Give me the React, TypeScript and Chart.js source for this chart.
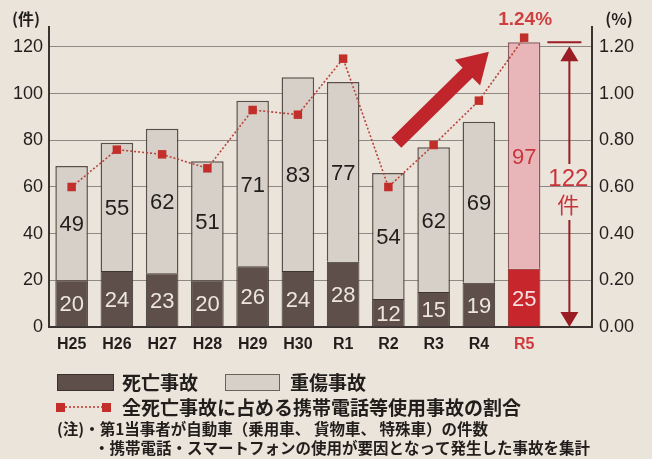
import React, { useEffect, useRef } from 'react';
import { Chart, registerables } from 'chart.js';

Chart.register(...registerables);

// ---- data ----
const categories = ['H25', 'H26', 'H27', 'H28', 'H29', 'H30', 'R1', 'R2', 'R3', 'R4', 'R5'];
const fatalAccidents = [20, 24, 23, 20, 26, 24, 28, 12, 15, 19, 25];
const seriousInjuryAccidents = [49, 55, 62, 51, 71, 83, 77, 54, 62, 69, 97];
const phoneShareRate = [0.6, 0.76, 0.74, 0.68, 0.93, 0.91, 1.15, 0.6, 0.78, 0.97, 1.24];
const countTickValues = [0, 20, 40, 60, 80, 100, 120];
const rateTickValues = [0, 0.2, 0.4, 0.6, 0.8, 1.0, 1.2];
const latestTotal = 122;

const SANS = '"Liberation Sans", Arial, sans-serif';
const NARROW = '"Liberation Sans Narrow", "Liberation Sans", Arial, sans-serif';
const JP = '"Noto Sans CJK JP", "Noto Sans", sans-serif';

const DARK = '#5e4f4a';
const LIGHT = '#d7d0c8';
const RED = '#c7262c';
const PINK = '#e8b6b9';
const LINE_RED = '#c22f2b';
const TEXT = '#221e1c';

// spacer category on the right for the total bracket
const labels = [...categories, ''];
const pad = (a: number[]) => [...a, null];

const lastIdx = categories.length - 1;

const paperPlugin = {
  id: 'paper',
  beforeDraw(chart: any) {
    const { ctx, width, height } = chart;
    ctx.save();
    ctx.fillStyle = '#eae4db';
    ctx.fillRect(0, 0, width, height);
    ctx.restore();
  },
};

const valueLabelPlugin = {
  id: 'valueLabels',
  afterDatasetsDraw(chart: any) {
    const { ctx } = chart;
    ctx.save();
    ctx.textAlign = 'center';
    ctx.textBaseline = 'middle';
    ctx.font = `22px ${SANS}`;
    chart.data.datasets.forEach((ds: any, di: number) => {
      if (ds.type === 'line') return;
      const meta = chart.getDatasetMeta(di);
      meta.data.forEach((el: any, i: number) => {
        const v = ds.data[i];
        if (v == null) return;
        const { x, y, base } = el.getProps(['x', 'y', 'base'], true);
        if (di === 0) {
          ctx.fillStyle = i === lastIdx ? '#f6dede' : '#ece6de';
        } else {
          ctx.fillStyle = i === lastIdx ? '#c8343a' : TEXT;
        }
        ctx.fillText(String(v), x, (y + base) / 2 + 2);
      });
    });
    ctx.restore();
  },
};

const annotationPlugin = {
  id: 'annotations',
  afterDraw(chart: any) {
    const { ctx } = chart;
    const xs = chart.scales.x;
    const ys = chart.scales.y;
    const y1 = chart.scales.y1;
    ctx.save();

    // axis unit labels
    ctx.fillStyle = TEXT;
    ctx.textBaseline = 'middle';
    ctx.textAlign = 'center';
    ctx.font = `bold 16px ${JP}`;
    ctx.fillText('(件)', 26, 19);
    ctx.fillText('(%)', 619, 19);

    // 1.24% label
    const rx = xs.getPixelForValue(lastIdx);
    const ry = y1.getPixelForValue(phoneShareRate[lastIdx]);
    ctx.fillStyle = '#cf3f3f';
    ctx.font = `bold 19px ${SANS}`;
    ctx.fillText(phoneShareRate[lastIdx].toFixed(2) + '%', rx + 1, ry - 18);

    // big trend arrow
    const tx = xs.getPixelForValue(7) + 8;
    const ty = ys.getPixelForValue(79);
    const hx = xs.getPixelForValue(9) + 10;
    const hy = ys.getPixelForValue(118);
    const ang = Math.atan2(hy - ty, hx - tx);
    const len = Math.hypot(hx - tx, hy - ty);
    ctx.translate(tx, ty);
    ctx.rotate(ang);
    ctx.fillStyle = '#c0252c';
    const shaft = 14, head = 36, headLen = 30;
    ctx.beginPath();
    ctx.moveTo(0, -shaft / 2);
    ctx.lineTo(len - headLen, -shaft / 2);
    ctx.lineTo(len - headLen, -head / 2);
    ctx.lineTo(len, 0);
    ctx.lineTo(len - headLen, head / 2);
    ctx.lineTo(len - headLen, shaft / 2);
    ctx.lineTo(0, shaft / 2);
    ctx.closePath();
    ctx.fill();
    ctx.setTransform(1, 0, 0, 1, 0, 0);

    // total bracket
    const bx = xs.getPixelForValue(categories.length);
    const top = ys.getPixelForValue(latestTotal);
    const bottom = ys.getPixelForValue(0);
    ctx.strokeStyle = '#9b1d24';
    ctx.fillStyle = '#9b1d24';
    ctx.lineWidth = 2;
    ctx.beginPath();
    ctx.moveTo(bx - 22, top);
    ctx.lineTo(bx + 12, top);
    ctx.stroke();
    ctx.beginPath();
    ctx.moveTo(bx, top + 18);
    ctx.lineTo(bx, 164);
    ctx.moveTo(bx, 220);
    ctx.lineTo(bx, bottom - 14);
    ctx.stroke();
    ctx.beginPath();
    ctx.moveTo(bx, top + 4);
    ctx.lineTo(bx - 9, top + 19);
    ctx.lineTo(bx + 9, top + 19);
    ctx.closePath();
    ctx.fill();
    ctx.beginPath();
    ctx.moveTo(bx, bottom);
    ctx.lineTo(bx - 9, bottom - 15);
    ctx.lineTo(bx + 9, bottom - 15);
    ctx.closePath();
    ctx.fill();
    ctx.fillStyle = '#c8343a';
    ctx.font = `24px ${SANS}`;
    ctx.fillText(String(latestTotal), bx - 1, 179);
    ctx.font = `22px ${JP}`;
    ctx.fillText('件', bx - 1, 205);

    // legend
    ctx.textAlign = 'left';
    ctx.lineWidth = 1;
    ctx.fillStyle = DARK;
    ctx.strokeStyle = '#3a302c';
    ctx.fillRect(57, 374, 56, 16);
    ctx.strokeRect(57.5, 374.5, 56, 16);
    ctx.fillStyle = LIGHT;
    ctx.strokeStyle = '#6b605a';
    ctx.fillRect(225, 374, 54, 16);
    ctx.strokeRect(225.5, 374.5, 54, 16);
    ctx.fillStyle = TEXT;
    ctx.font = `bold 19px ${JP}`;
    ctx.fillText('死亡事故', 122, 383);
    ctx.fillText('重傷事故', 290, 383);

    ctx.strokeStyle = LINE_RED;
    ctx.lineWidth = 1.5;
    ctx.setLineDash([2, 2]);
    ctx.beginPath();
    ctx.moveTo(61, 407);
    ctx.lineTo(106, 407);
    ctx.stroke();
    ctx.setLineDash([]);
    ctx.fillStyle = LINE_RED;
    ctx.fillRect(56, 403, 9, 9);
    ctx.fillRect(102, 403, 9, 9);
    ctx.fillStyle = TEXT;
    ctx.font = `bold 19px ${JP}`;
    ctx.fillText('全死亡事故に占める携帯電話等使用事故の割合', 122, 408);
    ctx.font = `bold 15.5px ${JP}`;
    (ctx as any).letterSpacing = '0px';
    ctx.fillText('(注)・第1当事者が自動車（乗用車、 貨物車、 特殊車）の件数', 57, 429);
    ctx.fillText('・携帯電話・スマートフォンの使用が要因となって発生した事故を集計', 94, 448);

    ctx.restore();
  },
};

export default function App() {
  const ref = useRef<HTMLCanvasElement | null>(null);

  useEffect(() => {
    if (!ref.current) return;
    const chart = new Chart(ref.current, {
      type: 'bar',
      data: {
        labels,
        datasets: [
          {
            type: 'bar',
            label: '死亡事故',
            data: pad(fatalAccidents) as any,
            stack: 's',
            backgroundColor: labels.map((_, i) => (i === lastIdx ? RED : DARK)),
            borderColor: labels.map((_, i) => (i === lastIdx ? '#8d1f22' : '#3e3430')),
            borderWidth: 1,
            yAxisID: 'y',
            order: 2,
          } as any,
          {
            type: 'bar',
            label: '重傷事故',
            data: pad(seriousInjuryAccidents) as any,
            stack: 's',
            backgroundColor: labels.map((_, i) => (i === lastIdx ? PINK : LIGHT)),
            borderColor: labels.map((_, i) => (i === lastIdx ? '#8a5a5c' : '#5a4f4a')),
            borderWidth: 1.5,
            yAxisID: 'y',
            order: 2,
          } as any,
          {
            type: 'line',
            label: '全死亡事故に占める携帯電話等使用事故の割合',
            data: pad(phoneShareRate) as any,
            yAxisID: 'y1',
            borderColor: '#b8443c',
            borderWidth: 1.6,
            borderDash: [2, 2],
            pointStyle: 'rect',
            pointRadius: 6,
            pointBackgroundColor: LINE_RED,
            pointBorderColor: LINE_RED,
            pointBorderWidth: 0,
            tension: 0,
            order: 0,
          } as any,
        ],
      },
      options: {
        responsive: false,
        animation: false,
        events: [],
        layout: { padding: { top: 27, bottom: 102, left: 0, right: 0 } },
        datasets: { bar: { barPercentage: 0.72, categoryPercentage: 1 } },
        plugins: {
          legend: { display: false },
          tooltip: { enabled: false },
          title: { display: false },
        },
        scales: {
          x: {
            stacked: true,
            grid: { display: false, drawTicks: false },
            border: { display: true, color: '#3a3330', width: 2 },
            ticks: {
              padding: 8,
              autoSkip: false,
              maxRotation: 0,
              font: { family: NARROW, size: 16, weight: 'bold' },
              color: (c: any) => (c.index === lastIdx ? '#d0393c' : TEXT),
            },
            afterFit: (s: any) => {
              s.height = 30;
            },
          },
          y: {
            stacked: true,
            position: 'left',
            min: 0,
            max: 128.57,
            grid: { color: '#8e8984', lineWidth: 1, drawTicks: false },
            border: { display: true, color: '#3a3330', width: 2 },
            ticks: {
              stepSize: 20,
              padding: 6,
              font: { family: SANS, size: 18 },
              color: TEXT,
            },
            afterBuildTicks: (s: any) => {
              s.ticks = countTickValues.map((v) => ({ value: v }));
            },
            afterFit: (s: any) => {
              s.width = 49;
            },
          },
          y1: {
            position: 'right',
            min: 0,
            max: 1.2857,
            grid: { display: false, drawTicks: false },
            border: { display: true, color: '#3a3330', width: 2 },
            ticks: {
              stepSize: 0.2,
              padding: 7,
              font: { family: SANS, size: 18 },
              color: TEXT,
              callback: (v: any) => Number(v).toFixed(2),
            },
            afterBuildTicks: (s: any) => {
              s.ticks = rateTickValues.map((v) => ({ value: v }));
            },
            afterFit: (s: any) => {
              s.width = 60;
            },
          },
        },
      } as any,
      plugins: [paperPlugin, valueLabelPlugin, annotationPlugin],
    });
    return () => chart.destroy();
  }, []);

  return (
    <div style={{ position: 'fixed', left: 0, top: 0, width: 652, height: 459 }}>
      <canvas ref={ref} width={652} height={459} style={{ display: 'block' }} />
    </div>
  );
}
